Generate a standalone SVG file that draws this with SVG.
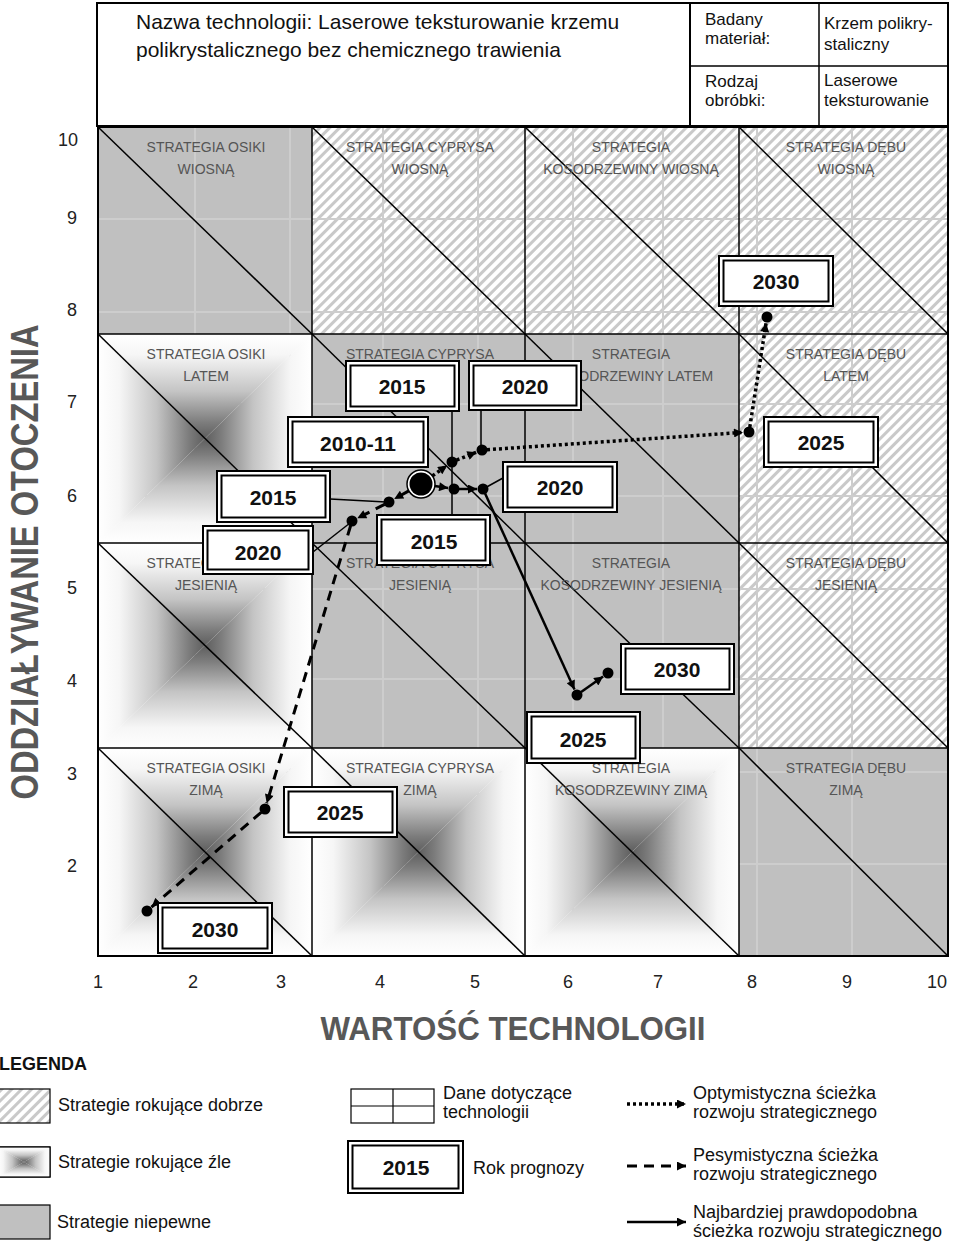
<svg xmlns="http://www.w3.org/2000/svg" width="960" height="1242" viewBox="0 0 960 1242">
<defs>
<pattern id="hatch" patternUnits="userSpaceOnUse" width="7" height="7" patternTransform="rotate(45)">
<rect width="7" height="7" fill="#ffffff"/>
<rect x="0" y="0" width="3" height="7" fill="#c9c9c9"/>
</pattern>
<linearGradient id="gT" x1="0" y1="0" x2="0" y2="1"><stop offset="0" stop-color="#ffffff"/><stop offset="0.2" stop-color="#f6f6f6"/><stop offset="0.55" stop-color="#c4c4c4"/><stop offset="0.85" stop-color="#7c7c7c"/><stop offset="1" stop-color="#5e5e5e"/></linearGradient>
<linearGradient id="gB" x1="0" y1="1" x2="0" y2="0"><stop offset="0" stop-color="#ffffff"/><stop offset="0.2" stop-color="#f6f6f6"/><stop offset="0.55" stop-color="#c4c4c4"/><stop offset="0.85" stop-color="#7c7c7c"/><stop offset="1" stop-color="#5e5e5e"/></linearGradient>
<linearGradient id="gL" x1="0" y1="0" x2="1" y2="0"><stop offset="0" stop-color="#ffffff"/><stop offset="0.2" stop-color="#f6f6f6"/><stop offset="0.55" stop-color="#c4c4c4"/><stop offset="0.85" stop-color="#7c7c7c"/><stop offset="1" stop-color="#5e5e5e"/></linearGradient>
<linearGradient id="gR" x1="1" y1="0" x2="0" y2="0"><stop offset="0" stop-color="#ffffff"/><stop offset="0.2" stop-color="#f6f6f6"/><stop offset="0.55" stop-color="#c4c4c4"/><stop offset="0.85" stop-color="#7c7c7c"/><stop offset="1" stop-color="#5e5e5e"/></linearGradient>
<marker id="ah" viewBox="0 0 10 10" refX="10" refY="5" markerWidth="11" markerHeight="9" markerUnits="userSpaceOnUse" orient="auto">
<path d="M0,0 L10,5 L0,10 z" fill="#000"/>
</marker>
<style>
.t{font-family:"Liberation Sans",Arial,sans-serif;fill:#111}
.hdr{font-size:21px}
.hs{font-size:17px}
.lbl{font-family:"Liberation Sans",Arial,sans-serif;font-size:14px;fill:#555;text-anchor:middle}
.ax{font-family:"Liberation Sans",Arial,sans-serif;font-size:18px;fill:#222;text-anchor:middle}
.ttl{font-family:"Liberation Sans",Arial,sans-serif;font-weight:900;fill:#585858;text-anchor:middle}
.leg{font-family:"Liberation Sans",Arial,sans-serif;font-size:18px;fill:#111}
.gray{fill:#c0c0c0}
.hat{fill:url(#hatch)}
.grid line{stroke:#cdcdcd;stroke-width:2}
.bd{fill:none;stroke:#000;stroke-width:2}
.dg{stroke:#000;stroke-width:1.5}
.yo{fill:#fff;stroke:#000;stroke-width:2}
.yi{fill:#fff;stroke:#000;stroke-width:2}
.yt{font-family:"Liberation Sans",Arial,sans-serif;font-weight:bold;font-size:21px;fill:#111;text-anchor:middle}
.dot{fill:#000}
.opt{stroke:#000;stroke-width:3.5;stroke-dasharray:3 3;fill:none}
.pes{stroke:#000;stroke-width:3;stroke-dasharray:10 7;fill:none}
.sol{stroke:#000;stroke-width:2.5;fill:none}
.ldr{stroke:#000;stroke-width:1.5;fill:none}
</style>
</defs>
<rect width="960" height="1242" fill="#ffffff"/>

<!-- Header -->
<g id="header">
<rect x="97" y="3" width="851" height="123" fill="#fff" stroke="#000" stroke-width="2"/>
<line x1="690" y1="3" x2="690" y2="126" stroke="#000" stroke-width="2"/>
<line x1="819" y1="3" x2="819" y2="126" stroke="#000" stroke-width="1.5"/>
<line x1="690" y1="66" x2="948" y2="66" stroke="#000" stroke-width="1.5"/>
<text class="t hdr" x="136" y="29">Nazwa technologii: Laserowe teksturowanie krzemu</text>
<text class="t hdr" x="136" y="57">polikrystalicznego bez chemicznego trawienia</text>
<text class="t hs" x="705" y="25">Badany</text>
<text class="t hs" x="705" y="44">materiał:</text>
<text class="t hs" x="824" y="29">Krzem polikry-</text>
<text class="t hs" x="824" y="50">staliczny</text>
<text class="t hs" x="705" y="87">Rodzaj</text>
<text class="t hs" x="705" y="106">obróbki:</text>
<text class="t hs" x="824" y="86">Laserowe</text>
<text class="t hs" x="824" y="106">teksturowanie</text>
</g>

<!-- Cell fills -->
<g id="fills">
<rect class="gray" x="98" y="127" width="214" height="207"/>
<rect class="hat" x="312" y="127" width="213" height="207"/>
<rect class="hat" x="525" y="127" width="214" height="207"/>
<rect class="hat" x="739" y="127" width="209" height="207"/>
<rect class="gray" x="312" y="334" width="213" height="209"/>
<rect class="gray" x="525" y="334" width="214" height="209"/>
<rect class="hat" x="739" y="334" width="209" height="209"/>
<rect class="gray" x="312" y="543" width="213" height="205"/>
<rect class="gray" x="525" y="543" width="214" height="205"/>
<rect class="hat" x="739" y="543" width="209" height="205"/>
<rect class="gray" x="739" y="748" width="209" height="208"/>
</g>

<g class="grid">
<line x1="195" y1="127" x2="195" y2="956"/>
<line x1="290" y1="127" x2="290" y2="956"/>
<line x1="383" y1="127" x2="383" y2="956"/>
<line x1="478" y1="127" x2="478" y2="956"/>
<line x1="573" y1="127" x2="573" y2="956"/>
<line x1="663" y1="127" x2="663" y2="956"/>
<line x1="757" y1="127" x2="757" y2="956"/>
<line x1="852" y1="127" x2="852" y2="956"/>
<line x1="98" y1="219" x2="948" y2="219"/>
<line x1="98" y1="312" x2="948" y2="312"/>
<line x1="98" y1="404" x2="948" y2="404"/>
<line x1="98" y1="496" x2="948" y2="496"/>
<line x1="98" y1="589" x2="948" y2="589"/>
<line x1="98" y1="679" x2="948" y2="679"/>
<line x1="98" y1="772" x2="948" y2="772"/>
<line x1="98" y1="864" x2="948" y2="864"/>
</g>

<!-- Gradient (bad) cells -->
<g id="bad-cells">
<g id="cell-osiki-latem-bg">
<polygon points="98,334 312,334 205,438.5" fill="url(#gT)"/>
<polygon points="98,543 312,543 205,438.5" fill="url(#gB)"/>
<polygon points="98,334 98,543 205,438.5" fill="url(#gL)"/>
<polygon points="312,334 312,543 205,438.5" fill="url(#gR)"/>
</g>
<g id="cell-osiki-jesienia-bg">
<polygon points="98,543 312,543 205,645.5" fill="url(#gT)"/>
<polygon points="98,748 312,748 205,645.5" fill="url(#gB)"/>
<polygon points="98,543 98,748 205,645.5" fill="url(#gL)"/>
<polygon points="312,543 312,748 205,645.5" fill="url(#gR)"/>
</g>
<g id="cell-osiki-zima-bg">
<polygon points="98,748 312,748 205,852" fill="url(#gT)"/>
<polygon points="98,956 312,956 205,852" fill="url(#gB)"/>
<polygon points="98,748 98,956 205,852" fill="url(#gL)"/>
<polygon points="312,748 312,956 205,852" fill="url(#gR)"/>
</g>
<g id="cell-cyprysa-zima-bg">
<polygon points="312,748 525,748 418.5,852" fill="url(#gT)"/>
<polygon points="312,956 525,956 418.5,852" fill="url(#gB)"/>
<polygon points="312,748 312,956 418.5,852" fill="url(#gL)"/>
<polygon points="525,748 525,956 418.5,852" fill="url(#gR)"/>
</g>
<g id="cell-kosodrzewiny-zima-bg">
<polygon points="525,748 739,748 632,852" fill="url(#gT)"/>
<polygon points="525,956 739,956 632,852" fill="url(#gB)"/>
<polygon points="525,748 525,956 632,852" fill="url(#gL)"/>
<polygon points="739,748 739,956 632,852" fill="url(#gR)"/>
</g>
</g>

<!-- Borders and diagonals -->
<g id="cell-borders">
<rect class="bd" x="98" y="127" width="850" height="829" stroke-width="2.5"/>
<line class="dg" x1="312" y1="127" x2="312" y2="956" stroke-width="2"/>
<line class="dg" x1="525" y1="127" x2="525" y2="956" stroke-width="2"/>
<line class="dg" x1="739" y1="127" x2="739" y2="956" stroke-width="2"/>
<line class="dg" x1="98" y1="334" x2="948" y2="334" stroke-width="2.5"/>
<line class="dg" x1="98" y1="543" x2="948" y2="543" stroke-width="2.5"/>
<line class="dg" x1="98" y1="748" x2="948" y2="748" stroke-width="2.5"/>
<line class="dg" x1="98" y1="127" x2="312" y2="334"/>
<line class="dg" x1="312" y1="127" x2="525" y2="334"/>
<line class="dg" x1="525" y1="127" x2="739" y2="334"/>
<line class="dg" x1="739" y1="127" x2="948" y2="334"/>
<line class="dg" x1="98" y1="334" x2="312" y2="543"/>
<line class="dg" x1="312" y1="334" x2="525" y2="543"/>
<line class="dg" x1="525" y1="334" x2="739" y2="543"/>
<line class="dg" x1="739" y1="334" x2="948" y2="543"/>
<line class="dg" x1="98" y1="543" x2="312" y2="748"/>
<line class="dg" x1="312" y1="543" x2="525" y2="748"/>
<line class="dg" x1="525" y1="543" x2="739" y2="748"/>
<line class="dg" x1="739" y1="543" x2="948" y2="748"/>
<line class="dg" x1="98" y1="748" x2="312" y2="956"/>
<line class="dg" x1="312" y1="748" x2="525" y2="956"/>
<line class="dg" x1="525" y1="748" x2="739" y2="956"/>
<line class="dg" x1="739" y1="748" x2="948" y2="956"/>
</g>

<!-- Cell labels -->
<g id="cell-osiki-wiosna"><text class="lbl" x="206" y="152">STRATEGIA OSIKI</text><text class="lbl" x="206" y="174">WIOSNĄ</text></g>
<g id="cell-cyprysa-wiosna"><text class="lbl" x="420" y="152">STRATEGIA CYPRYSA</text><text class="lbl" x="420" y="174">WIOSNĄ</text></g>
<g id="cell-kosodrzewiny-wiosna"><text class="lbl" x="631" y="152">STRATEGIA</text><text class="lbl" x="631" y="174">KOSODRZEWINY WIOSNĄ</text></g>
<g id="cell-debu-wiosna"><text class="lbl" x="846" y="152">STRATEGIA DĘBU</text><text class="lbl" x="846" y="174">WIOSNĄ</text></g>
<g id="cell-osiki-latem"><text class="lbl" x="206" y="359">STRATEGIA OSIKI</text><text class="lbl" x="206" y="381">LATEM</text></g>
<g id="cell-cyprysa-latem"><text class="lbl" x="420" y="359">STRATEGIA CYPRYSA</text></g>
<g id="cell-kosodrzewiny-latem"><text class="lbl" x="631" y="359">STRATEGIA</text><text class="lbl" x="631" y="381">KOSODRZEWINY LATEM</text></g>
<g id="cell-debu-latem"><text class="lbl" x="846" y="359">STRATEGIA DĘBU</text><text class="lbl" x="846" y="381">LATEM</text></g>
<g id="cell-osiki-jesienia"><text class="lbl" x="206" y="568">STRATEGIA OSIKI</text><text class="lbl" x="206" y="590">JESIENIĄ</text></g>
<g id="cell-cyprysa-jesienia"><text class="lbl" x="420" y="568">STRATEGIA CYPRYSA</text><text class="lbl" x="420" y="590">JESIENIĄ</text></g>
<g id="cell-kosodrzewiny-jesienia"><text class="lbl" x="631" y="568">STRATEGIA</text><text class="lbl" x="631" y="590">KOSODRZEWINY JESIENIĄ</text></g>
<g id="cell-debu-jesienia"><text class="lbl" x="846" y="568">STRATEGIA DĘBU</text><text class="lbl" x="846" y="590">JESIENIĄ</text></g>
<g id="cell-osiki-zima"><text class="lbl" x="206" y="773">STRATEGIA OSIKI</text><text class="lbl" x="206" y="795">ZIMĄ</text></g>
<g id="cell-cyprysa-zima"><text class="lbl" x="420" y="773">STRATEGIA CYPRYSA</text><text class="lbl" x="420" y="795">ZIMĄ</text></g>
<g id="cell-kosodrzewiny-zima"><text class="lbl" x="631" y="773">STRATEGIA</text><text class="lbl" x="631" y="795">KOSODRZEWINY ZIMĄ</text></g>
<g id="cell-debu-zima"><text class="lbl" x="846" y="773">STRATEGIA DĘBU</text><text class="lbl" x="846" y="795">ZIMĄ</text></g>

<!-- Axes -->
<g id="axis-y">
<text class="ax" x="68" y="146">10</text>
<text class="ax" x="72" y="224">9</text>
<text class="ax" x="72" y="316">8</text>
<text class="ax" x="72" y="408">7</text>
<text class="ax" x="72" y="502">6</text>
<text class="ax" x="72" y="594">5</text>
<text class="ax" x="72" y="687">4</text>
<text class="ax" x="72" y="780">3</text>
<text class="ax" x="72" y="872">2</text>
<text class="ttl" transform="translate(38,562) rotate(-90)" x="0" y="0" font-size="38" textLength="475" lengthAdjust="spacingAndGlyphs">ODDZIAŁYWANIE OTOCZENIA</text>
</g>
<g id="axis-x">
<text class="ax" x="98" y="988">1</text>
<text class="ax" x="193" y="988">2</text>
<text class="ax" x="281" y="988">3</text>
<text class="ax" x="380" y="988">4</text>
<text class="ax" x="475" y="988">5</text>
<text class="ax" x="568" y="988">6</text>
<text class="ax" x="658" y="988">7</text>
<text class="ax" x="752" y="988">8</text>
<text class="ax" x="847" y="988">9</text>
<text class="ax" x="937" y="988">10</text>
<text class="ttl" x="513" y="1040" font-size="34" textLength="385" lengthAdjust="spacingAndGlyphs">WARTOŚĆ TECHNOLOGII</text>
</g>

<!-- Connectors -->
<g id="connectors">
<line class="ldr" x1="452" y1="411" x2="452" y2="515"/>
<line class="ldr" x1="481" y1="410" x2="481" y2="449"/>
<line class="ldr" x1="503" y1="478" x2="483" y2="489"/>
<line class="ldr" x1="330" y1="499" x2="386" y2="502"/>
<line class="ldr" x1="313" y1="552" x2="350" y2="523"/>
<line class="opt" x1="432.4" y1="475.9" x2="447.1" y2="465.5" marker-end="url(#ah)"/>
<line class="opt" x1="456.6" y1="460.1" x2="476.4" y2="452.2" marker-end="url(#ah)"/>
<line class="opt" x1="487" y1="449.7" x2="743" y2="432.4" marker-end="url(#ah)"/>
<line class="opt" x1="749.8" y1="427.1" x2="766.1" y2="322.9" marker-end="url(#ah)"/>
<line class="sol" x1="434.8" y1="486.1" x2="448.1" y2="488.1" marker-end="url(#ah)"/>
<line class="sol" x1="459" y1="489" x2="477" y2="489" marker-end="url(#ah)"/>
<line class="sol" x1="485.1" y1="493.5" x2="574.5" y2="689.5" marker-end="url(#ah)"/>
<line class="sol" x1="581.1" y1="692.1" x2="603.1" y2="676.5" marker-end="url(#ah)"/>
<line class="pes" x1="408.8" y1="490.9" x2="394.2" y2="499.1" marker-end="url(#ah)"/>
<line class="pes" x1="384.6" y1="504.3" x2="357.3" y2="518.3" marker-end="url(#ah)"/>
<line class="pes" x1="350.6" y1="525.8" x2="266.7" y2="803.3" marker-end="url(#ah)"/>
<line class="pes" x1="261.2" y1="812.3" x2="151.5" y2="907.1" marker-end="url(#ah)"/>
<circle class="dot" cx="452" cy="462" r="5.5"/>
<circle class="dot" cx="482" cy="450" r="5.5"/>
<circle class="dot" cx="749" cy="432" r="5.5"/>
<circle class="dot" cx="767" cy="317" r="5.5"/>
<circle class="dot" cx="454" cy="489" r="5.5"/>
<circle class="dot" cx="483" cy="489" r="5.5"/>
<circle class="dot" cx="577" cy="695" r="5.5"/>
<circle class="dot" cx="608" cy="673" r="5.5"/>
<circle class="dot" cx="389" cy="502" r="5.5"/>
<circle class="dot" cx="352" cy="521" r="5.5"/>
<circle class="dot" cx="265" cy="809" r="5.5"/>
<circle class="dot" cx="147" cy="911" r="5.5"/>
</g>

<g id="origin">
<circle cx="421" cy="484" r="14" fill="#fff" stroke="#000" stroke-width="1.5"/>
<circle cx="421" cy="484" r="11.5" fill="#000"/>
</g>

<!-- Year boxes -->
<g id="y2030-opt"><rect class="yo" x="719" y="256" width="114" height="50"/><rect class="yi" x="723.5" y="260.5" width="105" height="41"/><text class="yt" x="776" y="289">2030</text></g>
<g id="y2015-opt"><rect class="yo" x="346" y="361" width="113" height="50"/><rect class="yi" x="350.5" y="365.5" width="104" height="41"/><text class="yt" x="402" y="394">2015</text></g>
<g id="y2020-opt"><rect class="yo" x="469" y="361" width="112" height="49"/><rect class="yi" x="473.5" y="365.5" width="103" height="40"/><text class="yt" x="525" y="394">2020</text></g>
<g id="y2010-11"><rect class="yo" x="288" y="417" width="140" height="50"/><rect class="yi" x="292.5" y="421.5" width="131" height="41"/><text class="yt" x="358" y="451" font-size="24">2010-11</text></g>
<g id="y2015-pes"><rect class="yo" x="217" y="471" width="113" height="51"/><rect class="yi" x="221.5" y="475.5" width="104" height="42"/><text class="yt" x="273" y="505">2015</text></g>
<g id="y2020-sol"><rect class="yo" x="503" y="462" width="114" height="50"/><rect class="yi" x="507.5" y="466.5" width="105" height="41"/><text class="yt" x="560" y="495">2020</text></g>
<g id="y2015-sol"><rect class="yo" x="377" y="515" width="113" height="50"/><rect class="yi" x="381.5" y="519.5" width="104" height="41"/><text class="yt" x="434" y="549">2015</text></g>
<g id="y2020-pes"><rect class="yo" x="203" y="526" width="110" height="48"/><rect class="yi" x="207.5" y="530.5" width="101" height="39"/><text class="yt" x="258" y="560">2020</text></g>
<g id="y2025-opt"><rect class="yo" x="764" y="417" width="114" height="50"/><rect class="yi" x="768.5" y="421.5" width="105" height="41"/><text class="yt" x="821" y="450">2025</text></g>
<g id="y2030-sol"><rect class="yo" x="621" y="644" width="113" height="50"/><rect class="yi" x="625.5" y="648.5" width="104" height="41"/><text class="yt" x="677" y="677">2030</text></g>
<g id="y2025-sol"><rect class="yo" x="527" y="712" width="113" height="51"/><rect class="yi" x="531.5" y="716.5" width="104" height="42"/><text class="yt" x="583" y="747">2025</text></g>
<g id="y2025-pes"><rect class="yo" x="284" y="787" width="113" height="50"/><rect class="yi" x="288.5" y="791.5" width="104" height="41"/><text class="yt" x="340" y="820">2025</text></g>
<g id="y2030-pes"><rect class="yo" x="158" y="903" width="114" height="50"/><rect class="yi" x="162.5" y="907.5" width="105" height="41"/><text class="yt" x="215" y="937">2030</text></g>

<!-- Legend -->
<g id="legend">
<text class="leg" x="-1" y="1070" font-weight="bold" font-size="20">LEGENDA</text>
<g id="leg-good">
<rect x="-2" y="1089" width="52" height="34" fill="url(#hatch)" stroke="#000" stroke-width="1.2"/>
<text class="leg" x="58" y="1111" font-size="19">Strategie rokujące dobrze</text>
</g>
<g id="leg-bad">
<rect x="-2" y="1147" width="52" height="30" fill="#fff" stroke="#000" stroke-width="1.2"/>
<polygon points="-2,1147 50,1147 24,1162" fill="url(#gT)"/>
<polygon points="-2,1177 50,1177 24,1162" fill="url(#gB)"/>
<polygon points="-2,1147 -2,1177 24,1162" fill="url(#gL)"/>
<polygon points="50,1147 50,1177 24,1162" fill="url(#gR)"/>
<rect x="-2" y="1147" width="52" height="30" fill="none" stroke="#000" stroke-width="1.2"/>
<text class="leg" x="58" y="1168" font-size="19">Strategie rokujące źle</text>
</g>
<g id="leg-uncertain">
<rect x="-2" y="1205" width="52" height="34" fill="#c0c0c0" stroke="#000" stroke-width="1.2"/>
<text class="leg" x="57" y="1228" font-size="19">Strategie niepewne</text>
</g>
<g id="leg-data">
<rect x="351" y="1089" width="83" height="34" fill="#fff" stroke="#000" stroke-width="1.2"/>
<line x1="393" y1="1089" x2="393" y2="1123" stroke="#000" stroke-width="1.2"/>
<line x1="351" y1="1106" x2="434" y2="1106" stroke="#000" stroke-width="1.2"/>
<text class="leg" x="443" y="1099">Dane dotyczące</text>
<text class="leg" x="443" y="1118">technologii</text>
</g>
<g id="leg-year">
<rect class="yo" x="348" y="1141" width="115" height="52"/>
<rect class="yi" x="352.5" y="1145.5" width="106" height="43"/>
<text class="yt" x="406" y="1175" font-size="19">2015</text>
<text class="leg" x="473" y="1174" font-size="19">Rok prognozy</text>
</g>
<g id="leg-opt">
<line class="opt" x1="627" y1="1104" x2="686" y2="1104" stroke-width="3" marker-end="url(#ah)"/>
<text class="leg" x="693" y="1099">Optymistyczna ścieżka</text>
<text class="leg" x="693" y="1118">rozwoju strategicznego</text>
</g>
<g id="leg-pes">
<line class="pes" x1="627" y1="1166" x2="686" y2="1166" marker-end="url(#ah)"/>
<text class="leg" x="693" y="1161">Pesymistyczna ścieżka</text>
<text class="leg" x="693" y="1180">rozwoju strategicznego</text>
</g>
<g id="leg-sol">
<line class="sol" x1="627" y1="1222" x2="686" y2="1222" marker-end="url(#ah)"/>
<text class="leg" x="693" y="1218">Najbardziej prawdopodobna</text>
<text class="leg" x="693" y="1237">ścieżka rozwoju strategicznego</text>
</g>
</g>
</svg>
